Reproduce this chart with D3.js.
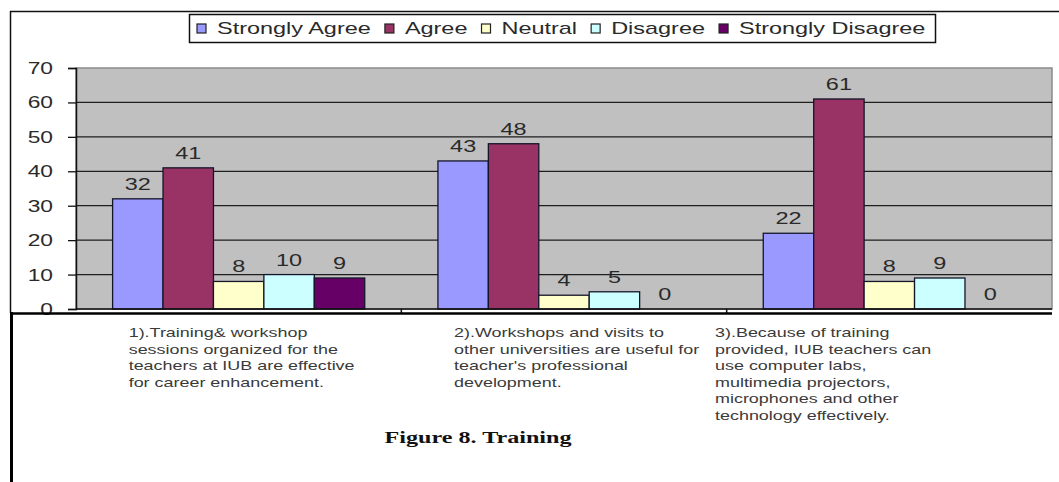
<!DOCTYPE html>
<html>
<head>
<meta charset="utf-8">
<script src="https://cdn.jsdelivr.net/npm/d3@7"></script>
<style>
  html, body { margin: 0; padding: 0; background: #fff; }
  svg { display: block; }
</style>
</head>
<body>
<svg id="chart" width="1059" height="482"></svg>
<script>
// chart values
var categories = ["q1", "q2", "q3"];
var categoryLines = [
  ["1).Training& workshop", "sessions organized for the", "teachers at IUB are effective", "for career enhancement."],
  ["2).Workshops and visits to", "other universities are useful for", "teacher's professional", "development."],
  ["3).Because of training", "provided, IUB teachers can", "use computer labs,", "multimedia projectors,", "microphones and other", "technology effectively."]
];
var seriesNames = ["Strongly Agree", "Agree", "Neutral", "Disagree", "Strongly Disagree"];
var seriesColors = ["#9999FF", "#993366", "#FFFFCC", "#CCFFFF", "#660066"];
var stronglyAgree = [32, 43, 22];
var agree = [41, 48, 61];
var neutral = [8, 4, 8];
var disagree = [10, 5, 9];
var stronglyDisagree = [9, 0, 0];
var yTicks = [0, 10, 20, 30, 40, 50, 60, 70];
var caption = "Figure 8. Training";

(function() {
  var seriesValues = [stronglyAgree, agree, neutral, disagree, stronglyDisagree];

  // the source picture is squeezed, so text gets stretched sideways
  var SX = 1.38;

  var svg = d3.select("#chart");
  var plotLeft = 76, plotRight = 1052, plotTop = 68, plotBottom = 309;

  var x0 = d3.scaleBand().domain(categories).range([plotLeft, plotRight])
      .paddingInner(0.225).paddingOuter(0.1125);
  var x1 = d3.scaleBand().domain(seriesNames).range([0, x0.bandwidth()]);
  var y = d3.scaleLinear().domain([0, 70]).range([plotBottom, plotTop]);

  function stretch(sel, x, y) {
    return sel.attr("transform", "translate(" + x + "," + y + ") scale(" + SX + ",1)");
  }

  // outer frame
  svg.append("line").attr("x1", 10).attr("x2", 1059).attr("y1", 11.5).attr("y2", 11.5)
      .attr("stroke", "#111").attr("stroke-width", 1.5);
  svg.append("line").attr("x1", 10.5).attr("x2", 10.5).attr("y1", 11).attr("y2", 313)
      .attr("stroke", "#111").attr("stroke-width", 1.5);

  // plot area
  svg.append("rect")
      .attr("x", plotLeft).attr("y", plotTop)
      .attr("width", plotRight - plotLeft).attr("height", plotBottom - plotTop)
      .attr("fill", "#C0C0C0").attr("stroke", "#8a8a8a").attr("stroke-width", 1.5);

  // grid lines
  svg.append("g").selectAll("line")
    .data(yTicks.filter(function(d) { return d > 0 && d < 70; }))
    .enter().append("line")
      .attr("x1", plotLeft).attr("x2", plotRight)
      .attr("y1", function(d) { return y(d); })
      .attr("y2", function(d) { return y(d); })
      .attr("stroke", "#1e1e1e").attr("stroke-width", 1.3);

  // y axis
  var yAxis = svg.append("g").attr("transform", "translate(" + plotLeft + ",0)")
      .call(d3.axisLeft(y).tickValues(yTicks).tickSize(8).tickFormat(""));
  yAxis.select(".domain").attr("stroke", "#111").attr("stroke-width", 1.5);
  yAxis.selectAll(".tick line").attr("stroke", "#111").attr("stroke-width", 1.3);

  svg.append("g").selectAll("text")
    .data(yTicks)
    .enter().append("text")
      .each(function(d) { stretch(d3.select(this), 53, y(d) + 6); })
      .attr("text-anchor", "end")
      .attr("font-family", "Arial, 'Liberation Sans', sans-serif")
      .attr("font-size", 16.5)
      .attr("fill", "#2a2a2a")
      .text(function(d) { return d; });

  function rowsFor(d, i) {
    return seriesNames.map(function(s, j) { return { series: s, idx: j, value: seriesValues[j][i] }; });
  }

  // bars
  var groups = svg.append("g").selectAll("g")
    .data(categories)
    .enter().append("g")
      .attr("transform", function(d) { return "translate(" + x0(d) + ",0)"; });

  groups.selectAll("rect")
    .data(rowsFor)
    .enter().append("rect")
      .attr("x", function(d) { return x1(d.series); })
      .attr("y", function(d) { return y(d.value); })
      .attr("width", x1.bandwidth())
      .attr("height", function(d) { return y(0) - y(d.value); })
      .attr("fill", function(d) { return seriesColors[d.idx]; })
      .attr("stroke", "#15152a")
      .attr("stroke-width", 1.3);

  groups.selectAll("text")
    .data(rowsFor)
    .enter().append("text")
      .each(function(d) {
        stretch(d3.select(this), x1(d.series) + x1.bandwidth() / 2, y(d.value) - 9);
      })
      .attr("text-anchor", "middle")
      .attr("font-family", "Arial, 'Liberation Sans', sans-serif")
      .attr("font-size", 17)
      .attr("fill", "#2a2a2a")
      .text(function(d) { return d.value; });

  // x axis
  svg.append("line").attr("x1", plotLeft).attr("x2", plotRight)
      .attr("y1", plotBottom).attr("y2", plotBottom)
      .attr("stroke", "#111").attr("stroke-width", 1.5);
  svg.append("g").selectAll("line")
    .data(categories.slice(1))
    .enter().append("line")
      .attr("x1", function(d) { return x0(d) - x0.step() * 0.1125; })
      .attr("x2", function(d) { return x0(d) - x0.step() * 0.1125; })
      .attr("y1", plotBottom).attr("y2", plotBottom + 4)
      .attr("stroke", "#111").attr("stroke-width", 1.5);

  // lower panel
  svg.append("line").attr("x1", 10).attr("x2", plotRight).attr("y1", 313.5).attr("y2", 313.5)
      .attr("stroke", "#000").attr("stroke-width", 2.5);
  svg.append("line").attr("x1", 11.5).attr("x2", 11.5).attr("y1", 312).attr("y2", 482)
      .attr("stroke", "#000").attr("stroke-width", 3);

  // category labels
  svg.append("g").selectAll("g")
    .data(categories)
    .enter().append("g")
      .each(function(d, i) {
        var cx = x0(d) + x0.bandwidth() / 2;
        var lx = Math.min(cx - 110, plotRight - 337);
        var g = d3.select(this);
        categoryLines[i].forEach(function(line, k) {
          stretch(g.append("text"), lx, 337 + k * 16.5)
            .attr("font-family", "Arial, 'Liberation Sans', sans-serif")
            .attr("font-size", 13)
            .attr("fill", "#3a3a3a")
            .text(line);
        });
      });

  // caption
  stretch(svg.append("text"), 478, 443)
      .attr("text-anchor", "middle")
      .attr("font-family", "'Liberation Serif', 'Times New Roman', serif")
      .attr("font-weight", "bold")
      .attr("font-size", 17.5)
      .attr("fill", "#111")
      .text(caption);

  // legend
  var legend = svg.append("g");
  legend.append("rect")
      .attr("x", 189.5).attr("y", 14.5).attr("width", 746).attr("height", 28)
      .attr("fill", "#fff").attr("stroke", "#111").attr("stroke-width", 1.5);

  var items = legend.selectAll("g.item")
    .data(seriesNames)
    .enter().append("g").attr("class", "item");
  items.append("rect")
      .attr("width", 9).attr("height", 9)
      .attr("fill", function(d, i) { return seriesColors[i]; })
      .attr("stroke", "#222").attr("stroke-width", 1.2);
  items.append("text")
      .attr("font-family", "Arial, 'Liberation Sans', sans-serif")
      .attr("font-size", 17)
      .attr("fill", "#2a2a2a")
      .text(function(d) { return d; });

  var lx = 197;
  items.each(function() {
    var g = d3.select(this);
    var t = g.select("text");
    var w = t.node().getComputedTextLength() * SX;
    g.select("rect").attr("x", lx).attr("y", 24);
    stretch(t, lx + 20, 34);
    lx += 20 + w + 14;
  });
})();
</script>
</body>
</html>
